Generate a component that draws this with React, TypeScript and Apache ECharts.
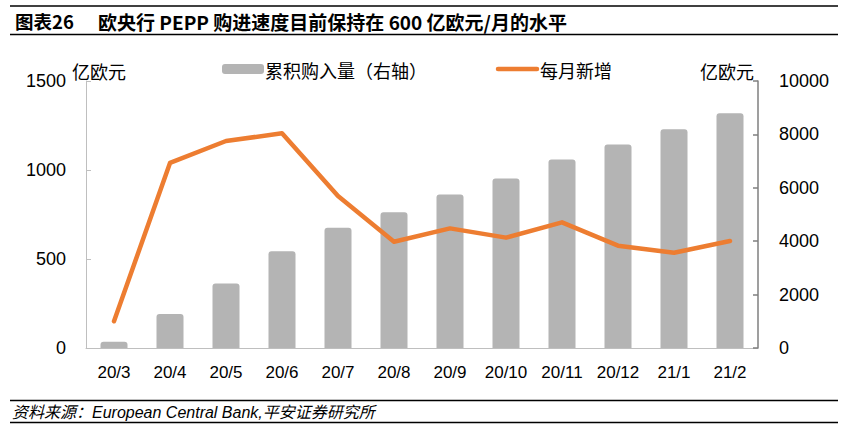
import React, { useEffect, useRef } from "react";
import * as echarts from "echarts";

const categories = ["20/3", "20/4", "20/5", "20/6", "20/7", "20/8", "20/9", "20/10", "20/11", "20/12", "21/1", "21/2"];
// 累积购入量（右轴），亿欧元
const cumulative = [230, 1270, 2420, 3620, 4500, 5080, 5750, 6350, 7060, 7620, 8190, 8790];
// 每月新增，亿欧元
const monthly = [150, 1040, 1163, 1206, 854, 597, 672, 620, 706, 575, 535, 601];
const leftTicks = { min: 0, max: 1500, interval: 500 };
const rightTicks = { min: 0, max: 10000, interval: 2000 };

const titleNo = "图表26";
const titleText = "欧央行 PEPP 购进速度目前保持在 600 亿欧元/月的水平";
const unitLabel = "亿欧元";
const barName = "累积购入量（右轴）";
const lineName = "每月新增";
const sourceText = "资料来源：European Central Bank,平安证券研究所";

const CJK = "'Noto Sans CJK SC', 'Liberation Sans', sans-serif";
const SANS = "'Liberation Sans', Arial, 'Noto Sans CJK SC', sans-serif";
const NARROW = "'Liberation Sans Narrow', 'Arial Narrow', 'Liberation Sans', sans-serif";

const plain = (v: number) => String(v);

export default function App() {
  const ref = useRef<HTMLDivElement>(null);
  useEffect(() => {
    if (!ref.current) return;
    const chart = echarts.init(ref.current, undefined, { renderer: "svg" });
    chart.setOption({
      animation: false,
      backgroundColor: "#ffffff",
      grid: { left: 86, right: 98, top: 81, bottom: 85, containLabel: false },
      xAxis: {
        type: "category",
        data: categories,
        boundaryGap: true,
        axisLine: { lineStyle: { color: "#bfbfbf", width: 1 } },
        axisTick: { inside: true, length: 5, lineStyle: { color: "#bfbfbf" } },
        axisLabel: { color: "#000", fontSize: 17, fontFamily: NARROW, margin: 16, interval: 0 },
        splitLine: { show: false },
      },
      yAxis: [
        {
          type: "value",
          position: "left",
          min: leftTicks.min,
          max: leftTicks.max,
          interval: leftTicks.interval,
          axisLine: { show: true, lineStyle: { color: "#bfbfbf", width: 1 } },
          axisTick: { show: true, inside: true, length: 5, lineStyle: { color: "#bfbfbf" } },
          axisLabel: { color: "#000", fontSize: 18, fontFamily: SANS, margin: 20, formatter: plain },
          splitLine: { show: false },
        },
        {
          type: "value",
          position: "right",
          min: rightTicks.min,
          max: rightTicks.max,
          interval: rightTicks.interval,
          axisLine: { show: true, lineStyle: { color: "#7f7f7f", width: 1.5 } },
          axisTick: { show: true, inside: true, length: 5, lineStyle: { color: "#7f7f7f", width: 1.5 } },
          axisLabel: { color: "#000", fontSize: 18, fontFamily: SANS, margin: 21, formatter: plain },
          splitLine: { show: false },
        },
      ],
      series: [
        {
          name: barName,
          type: "bar",
          yAxisIndex: 1,
          data: cumulative,
          barWidth: 27,
          itemStyle: { color: "#b4b4b4", borderRadius: [3, 3, 0, 0] },
        },
        {
          name: lineName,
          type: "line",
          yAxisIndex: 0,
          data: monthly,
          showSymbol: false,
          symbol: "none",
          lineStyle: { color: "#ed7d31", width: 4.5, cap: "round", join: "round" },
          z: 5,
        },
      ],
      graphic: [
        { type: "line", shape: { x1: 10, y1: 6, x2: 838, y2: 6 }, style: { stroke: "#000", lineWidth: 1.5 } },
        { type: "line", shape: { x1: 10, y1: 34.5, x2: 838, y2: 34.5 }, style: { stroke: "#000", lineWidth: 1.5 } },
        {
          type: "text",
          x: 15,
          y: 21,
          style: { text: titleNo, fill: "#000", font: `bold 18.5px ${CJK}`, verticalAlign: "middle" },
        },
        {
          type: "text",
          x: 98,
          y: 21,
          style: { text: titleText, fill: "#000", font: `bold 19px ${CJK}`, verticalAlign: "middle" },
        },
        {
          type: "text",
          x: 72,
          y: 71,
          style: { text: unitLabel, fill: "#000", font: `18px ${CJK}`, verticalAlign: "middle" },
        },
        {
          type: "text",
          x: 700,
          y: 71,
          style: { text: unitLabel, fill: "#000", font: `18px ${CJK}`, verticalAlign: "middle" },
        },
        { type: "rect", shape: { x: 222, y: 64, width: 42, height: 10, r: 3 }, style: { fill: "#b4b4b4" } },
        {
          type: "text",
          x: 265,
          y: 70,
          style: { text: barName, fill: "#000", font: `18px ${CJK}`, verticalAlign: "middle" },
        },
        {
          type: "line",
          shape: { x1: 498, y1: 69, x2: 537, y2: 69 },
          style: { stroke: "#ed7d31", lineWidth: 4.5, lineCap: "round" },
        },
        {
          type: "text",
          x: 540,
          y: 70,
          style: { text: lineName, fill: "#000", font: `18px ${CJK}`, verticalAlign: "middle" },
        },
        { type: "line", shape: { x1: 10, y1: 400.5, x2: 838, y2: 400.5 }, style: { stroke: "#000", lineWidth: 1.5 } },
        { type: "line", shape: { x1: 10, y1: 422.5, x2: 838, y2: 422.5 }, style: { stroke: "#000", lineWidth: 1.5 } },
        {
          type: "text",
          x: 12,
          y: 412,
          style: { text: sourceText, fill: "#000", font: `italic 16px ${SANS}`, verticalAlign: "middle" },
        },
      ],
    });
    return () => chart.dispose();
  }, []);
  return <div ref={ref} style={{ position: "fixed", left: 0, top: 0, width: 856, height: 433 }} />;
}
